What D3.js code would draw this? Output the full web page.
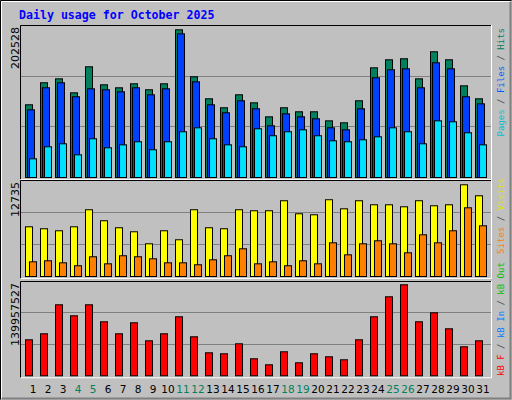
<!DOCTYPE html>
<html><head><meta charset="utf-8">
<script src="https://cdn.jsdelivr.net/npm/d3@7"></script>
<style>body{margin:0;background:#fff}</style>
</head><body>
<script>
var days = d3.range(1, 32);
var weekends = [4, 5, 11, 12, 18, 19, 25, 26];

var hits = [99700,129900,135300,116100,151800,127100,123000,128500,120300,128500,202528,138100,107900,95600,113400,102400,83200,95600,90100,90100,77700,75000,105200,150400,161400,162800,135300,172400,161400,125700,107900];
var files = [92800,123000,129900,110700,121600,120300,117500,123000,113400,121600,197000,131200,99700,88700,105200,94200,70900,87300,83200,80500,68100,65400,94200,136700,147700,149000,123000,157300,149000,110700,101000];
var pages = [25600,42100,46200,31100,53100,40700,44800,49000,38000,49000,62700,68100,53100,44800,42100,66800,57200,62700,65400,57200,50300,49000,51700,55800,68100,62700,46200,77700,76400,61300,44800];
var visits = [6900,6630,6350,6900,9270,7740,6770,6210,4540,6350,5100,9270,6770,6630,9270,9130,9130,10520,8710,8570,10660,9400,10520,9960,9960,9680,10520,9820,9960,12735,11210];
var sites = [2040,2180,1900,1490,2740,1760,2880,2740,2460,1900,1900,1630,2320,2880,3850,1760,2040,1490,2180,1760,4680,3010,4540,4960,4540,3290,5790,4680,6350,9540,7040];
var kbytes = [55368000,64596000,109198000,92280000,109198000,83052000,64596000,81514000,53830000,64596000,90742000,59982000,35374000,33836000,49216000,26146000,16918000,36912000,19994000,33836000,29222000,24608000,55368000,90742000,121502000,139957527,83052000,96894000,72286000,44602000,53830000];

var W = 512, H = 400;
var svg = d3.select("body").append("svg").attr("width", W).attr("height", H)
  .style("font-family", "'DejaVu Sans Mono', monospace");

// background + bevel
svg.append("rect").attr("width", W).attr("height", H).attr("fill", "#c0c0c0");
svg.append("path").attr("d", "M0.5,399.5V0.5H511.5").attr("stroke", "#000").attr("fill", "none");
svg.append("path").attr("d", "M1.5,398V1.5H510").attr("stroke", "#fff").attr("fill", "none");
svg.append("path").attr("d", "M2,398.5H510.5V2").attr("stroke", "#808080").attr("fill", "none").attr("stroke-width", 2);

svg.append("text").attr("x", 19).attr("y", 19).text("Daily usage for October 2025")
  .attr("fill", "#0000ff").attr("font-weight", "bold").attr("font-size", 11.6);

var x = d3.scaleBand().domain(days).range([25, 490]).paddingInner(0).paddingOuter(0);

var panels = [
  { top: 25, base: 177, max: 202528, maxY: 29.3, label: "202528", lgY: 28, lgAnchor: "end",
    series: [[hits, "#00805c", 0], [files, "#0040ff", 2], [pages, "#00e0ff", 4]],
    legend: [["Pages", "#00c0d0"], [" / ", "#404040"], ["Files", "#0060ff"], [" / ", "#404040"], ["Hits", "#00805c"]] },
  { top: 180, base: 276, max: 12735, maxY: 184.3, label: "12735", lgY: 178, lgAnchor: "end",
    series: [[visits, "#ffff00", 0], [sites, "#ff8000", 4]],
    legend: [["Sites", "#ff8000"], [" / ", "#404040"], ["Visits", "#e0e000"]] },
  { top: 281, base: 375.3, max: 139957527, maxY: 284.3, label: "139957527", lgY: 376, lgAnchor: "start",
    series: [[kbytes, "#ff0000", 0]],
    legend: [["kB F", "#ff0000"], [" / ", "#404040"], ["kB In", "#0080ff"], [" / ", "#404040"], ["kB Out", "#00c000"]] }
];

panels.forEach(function (p) {
  var g = svg.append("g");
  g.append("rect").attr("x", 20).attr("y", p.top).attr("width", 471).attr("height", p.base - p.top + 2)
    .attr("fill", "#c0c0c0");
  g.append("path").attr("d", "M20.5," + (p.base + 2) + "V" + (p.top + 0.5) + "H491")
    .attr("stroke", "#000").attr("fill", "none");
  g.append("path").attr("d", "M21," + (p.base + 2.5) + "H491.5V" + p.top)
    .attr("stroke", "#fff").attr("fill", "none");
  var y = d3.scaleLinear().domain([0, p.max]).range([p.base, p.maxY]);
  var step = (p.base - p.top) / 3;
  [1, 2].forEach(function (i) {
    var gy = Math.round(p.base - step * i) + 0.5;
    g.append("line").attr("x1", 21).attr("x2", 491).attr("y1", gy).attr("y2", gy)
      .attr("stroke", "#808080").attr("stroke-width", 1);
  });
  p.series.forEach(function (s) {
    g.selectAll(null).data(s[0]).enter().append("rect")
      .attr("x", function (d, i) { return x(days[i]) + s[2] + 0.5; })
      .attr("y", function (d) { return y(d) + 0.5; })
      .attr("width", 7)
      .attr("height", function (d) { return p.base - y(d); })
      .attr("fill", s[1]).attr("stroke", "#000");
  });
  svg.append("text").attr("transform", "translate(19," + (p.top + 2) + ") rotate(-90)")
    .attr("text-anchor", "end").attr("font-size", 11).attr("font-family", "'DejaVu Sans', sans-serif")
    .attr("fill", "#000").text(p.label);
  var t = svg.append("text").attr("transform", "translate(504," + p.lgY + ") rotate(-90)")
    .attr("text-anchor", p.lgAnchor).attr("font-size", 9);
  p.legend.forEach(function (l) { t.append("tspan").attr("fill", l[1]).text(l[0]); });
});

svg.selectAll(".day").data(days).enter().append("text")
  .attr("x", function (d) { return x(d) + 8; }).attr("y", 393)
  .attr("text-anchor", "middle").attr("font-size", 10.5).attr("font-family", "'DejaVu Sans', sans-serif")
  .attr("fill", function (d) { return weekends.indexOf(d) >= 0 ? "#00805c" : "#000"; })
  .text(function (d) { return d; });
</script>
</body></html>
